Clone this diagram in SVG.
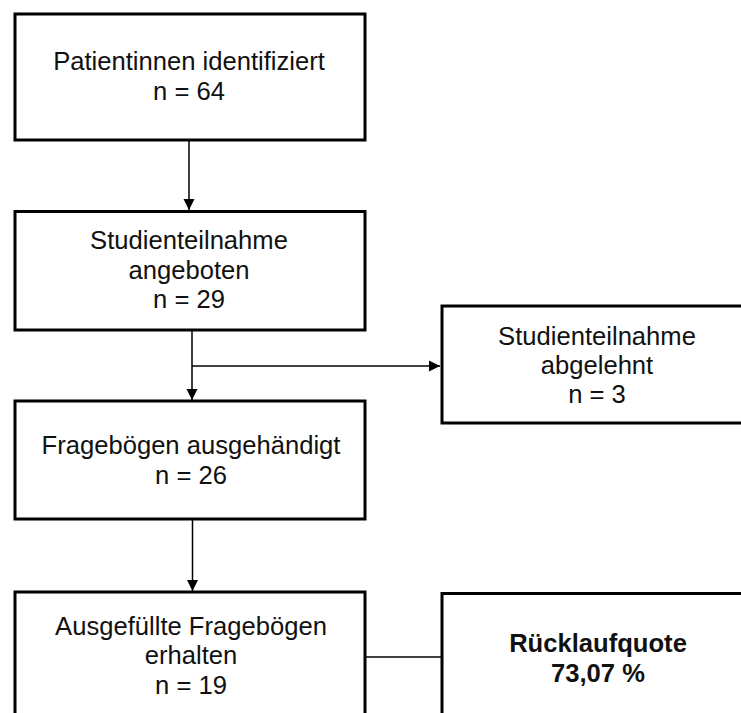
<svg xmlns="http://www.w3.org/2000/svg" width="741" height="713" viewBox="0 0 741 713">
  <style>
    .box { fill: #ffffff; stroke: #000000; stroke-width: 3; }
    .t { font-family: "Liberation Sans", Arial, Helvetica, sans-serif; font-size: 25.6px; fill: #111111; text-anchor: middle; }
    .b { font-weight: bold; }
    .c { fill: none; stroke: #000000; stroke-width: 1.5; }
  </style>
  <defs>
    <marker id="arr" markerUnits="userSpaceOnUse" markerWidth="12" markerHeight="12" viewBox="0 0 12 12" refX="11" refY="6" orient="auto">
      <path d="M0,0.5 L11,6 L0,11.5 Z" fill="#000000"/>
    </marker>
  </defs>
  <rect x="0" y="0" width="741" height="713" fill="#ffffff"/>

  <g id="connectors">
    <line class="c" x1="189" y1="141" x2="189" y2="210" marker-end="url(#arr)"/>
    <line class="c" x1="192" y1="331" x2="192" y2="400" marker-end="url(#arr)"/>
    <line class="c" x1="192" y1="366" x2="440" y2="366" marker-end="url(#arr)"/>
    <line class="c" x1="192.5" y1="520" x2="192.5" y2="591" marker-end="url(#arr)"/>
    <line class="c" x1="366" y1="657" x2="441" y2="657"/>
  </g>

  <g id="node1">
    <rect class="box" x="15" y="14" width="350" height="126"/>
    <text class="t" x="189" y="70">Patientinnen identifiziert</text>
    <text class="t" x="189" y="100">n = 64</text>
  </g>

  <g id="node2">
    <rect class="box" x="15" y="211.5" width="350" height="118.5"/>
    <text class="t" x="189" y="249">Studienteilnahme</text>
    <text class="t" x="189" y="278.5">angeboten</text>
    <text class="t" x="189" y="308">n = 29</text>
  </g>

  <g id="node3">
    <rect class="box" x="442" y="306" width="312" height="117"/>
    <text class="t" x="597" y="345">Studienteilnahme</text>
    <text class="t" x="597" y="374">abgelehnt</text>
    <text class="t" x="597" y="403">n = 3</text>
  </g>

  <g id="node4">
    <rect class="box" x="15" y="401" width="350" height="118"/>
    <text class="t" x="191" y="453.5">Fragebögen ausgehändigt</text>
    <text class="t" x="191" y="483.5">n = 26</text>
  </g>

  <g id="node5">
    <rect class="box" x="15" y="592" width="350" height="130"/>
    <text class="t" x="191" y="635">Ausgefüllte Fragebögen</text>
    <text class="t" x="191" y="664">erhalten</text>
    <text class="t" x="191" y="693.5">n = 19</text>
  </g>

  <g id="node6">
    <rect class="box" x="442" y="593.5" width="312" height="130"/>
    <text class="t b" x="598" y="651.5">Rücklaufquote</text>
    <text class="t b" x="598" y="681.5">73,07 %</text>
  </g>
</svg>
